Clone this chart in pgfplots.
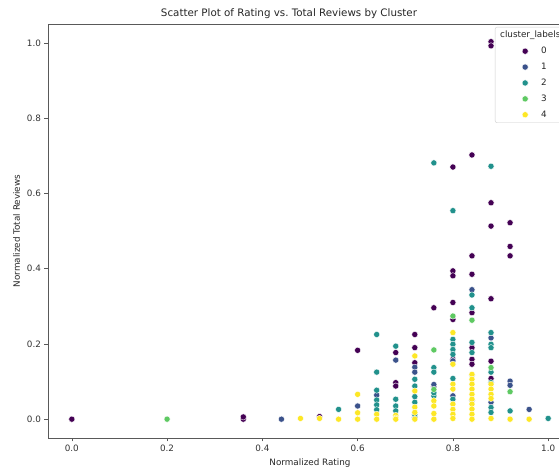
\documentclass[border=0pt]{standalone}
\usepackage{fontspec}
\setmainfont{DejaVu Sans}
\usepackage{pgfplots}
\pgfplotsset{compat=1.18}
\definecolor{c0}{HTML}{440154}
\definecolor{c1}{HTML}{3B528B}
\definecolor{c2}{HTML}{21918C}
\definecolor{c3}{HTML}{5EC962}
\definecolor{c4}{HTML}{FDE725}
\pgfplotsset{
  dot/.style={only marks, mark=*, mark size=3.1pt, mark options={fill=#1, draw=white, line width=0.4pt}},
}
\begin{document}
\begin{tikzpicture}
\begin{axis}[
  at={(0pt,0pt)}, anchor=south west,
  scale only axis, width=524pt, height=414pt,
  xmin=-0.05, xmax=1.05, ymin=-0.05, ymax=1.05,
  xtick={0,0.2,0.4,0.6,0.8,1.0}, ytick={0,0.2,0.4,0.6,0.8,1.0},
  xticklabels={0.0,0.2,0.4,0.6,0.8,1.0}, yticklabels={0.0,0.2,0.4,0.6,0.8,1.0},
  tick align=outside, major tick length=3.5pt, xtick pos=bottom, ytick pos=left,
  ticklabel style={font=\fontsize{8.8}{10}\selectfont, text=black!80},
  axis line style={black!65, line width=0.6pt},
  tick style={black!65, line width=0.6pt},
  title={Scatter Plot of Rating vs.\ Total Reviews by Cluster},
  title style={font=\fontsize{10.3}{12}\selectfont, text=black!85, yshift=-4pt, xshift=-21pt},
  xlabel={Normalized Rating}, ylabel={Normalized Total Reviews},
  label style={font=\fontsize{8.8}{10}\selectfont, text=black!85},
  legend cell align=left,
  legend image code/.code={\path[draw=none,fill=none] (-28pt,0pt) -- (14pt,0pt); \draw[#1] plot coordinates {(0pt,0pt)};},
  legend style={at={(0.853,0.993)}, anchor=north west, draw=black!20, fill=white,
    rounded corners=2pt, inner sep=2pt, row sep=3.9pt,
    nodes={inner sep=2pt, font=\fontsize{8.8}{10}\selectfont, text=black!85}},
]
\addlegendimage{legend image code/.code={}}
\addlegendentry{\hspace*{-41pt}cluster\_labels}

\addplot[dot=c0] coordinates {
(0,0) (0.36,0.0) (0.36,0.006) (0.52,0.007) (0.6,0.183) (0.68,0.177) (0.68,0.097) (0.68,0.088)
(0.72,0.225) (0.72,0.190) (0.72,0.150) (0.76,0.296) (0.76,0.086) (0.8,0.670) (0.8,0.394) (0.8,0.381)
(0.8,0.310) (0.8,0.265) (0.8,0.159) (0.84,0.702) (0.84,0.434) (0.84,0.385) (0.84,0.283) (0.84,0.190)
(0.84,0.159) (0.84,0.146) (0.88,1.003) (0.88,0.992) (0.88,0.575) (0.88,0.513) (0.88,0.320) (0.88,0.154)
(0.88,0.108) (0.92,0.522) (0.92,0.459) (0.92,0.434)
};
\addlegendentry{0}
\addplot[dot=c1] coordinates {
(0.44,0) (0.6,0.035) (0.64,0.064) (0.68,0.157) (0.72,0.138) (0.72,0.125) (0.72,0.005) (0.76,0.092)
(0.8,0.155) (0.8,0.062) (0.84,0.344) (0.84,0.050) (0.88,0.216) (0.88,0.045) (0.92,0.101) (0.92,0.090)
(0.96,0.026)
};
\addlegendentry{1}
\addplot[dot=c2] coordinates {
(0.56,0.026) (0.64,0.225) (0.64,0.125) (0.64,0.077) (0.64,0.051) (0.64,0.038) (0.64,0.025) (0.68,0.194)
(0.68,0.053) (0.68,0.035) (0.68,0.022) (0.72,0.106) (0.72,0.088) (0.72,0.060) (0.72,0.045) (0.72,0.012)
(0.76,0.681) (0.76,0.137) (0.76,0.125) (0.76,0.062) (0.76,0.070) (0.8,0.554) (0.8,0.212) (0.8,0.199)
(0.8,0.185) (0.8,0.172) (0.8,0.108) (0.8,0.053) (0.84,0.330) (0.84,0.296) (0.84,0.204) (0.84,0.177)
(0.84,0.117) (0.88,0.672) (0.88,0.230) (0.88,0.199) (0.88,0.190) (0.88,0.125) (0.88,0.097) (0.88,0.031)
(0.88,0.018) (0.92,0.022) (1.0,0.002)
};
\addlegendentry{2}
\addplot[dot=c3] coordinates {
(0.2,0) (0.76,0.184) (0.76,0.079) (0.8,0.274) (0.84,0.263) (0.88,0.137) (0.92,0.073)
};
\addlegendentry{3}
\addplot[dot=c4] coordinates {
(0.48,0.002) (0.52,0.002) (0.56,0.0) (0.6,0.066) (0.6,0.017) (0.6,0.0) (0.64,0.013) (0.64,0.0)
(0.68,0.010) (0.68,0.003) (0.68,0.0) (0.72,0.168) (0.72,0.075) (0.72,0.032) (0.72,0.018) (0.72,0.0)
(0.76,0.049) (0.76,0.035) (0.76,0.015) (0.76,0.0) (0.8,0.230) (0.8,0.146) (0.8,0.093) (0.8,0.080)
(0.8,0.040) (0.8,0.026) (0.8,0.013) (0.8,0.002) (0.84,0.119) (0.84,0.106) (0.84,0.093) (0.84,0.080)
(0.84,0.066) (0.84,0.053) (0.84,0.040) (0.84,0.027) (0.84,0.013) (0.84,0.0) (0.88,0.093) (0.88,0.080)
(0.88,0.066) (0.88,0.055) (0.88,0.002) (0.92,0.0) (0.96,0.0)
};
\addlegendentry{4}
\end{axis}
\pgfresetboundingbox
\useasboundingbox (-48pt,-32pt) rectangle (511pt,438pt);
\end{tikzpicture}
\end{document}
